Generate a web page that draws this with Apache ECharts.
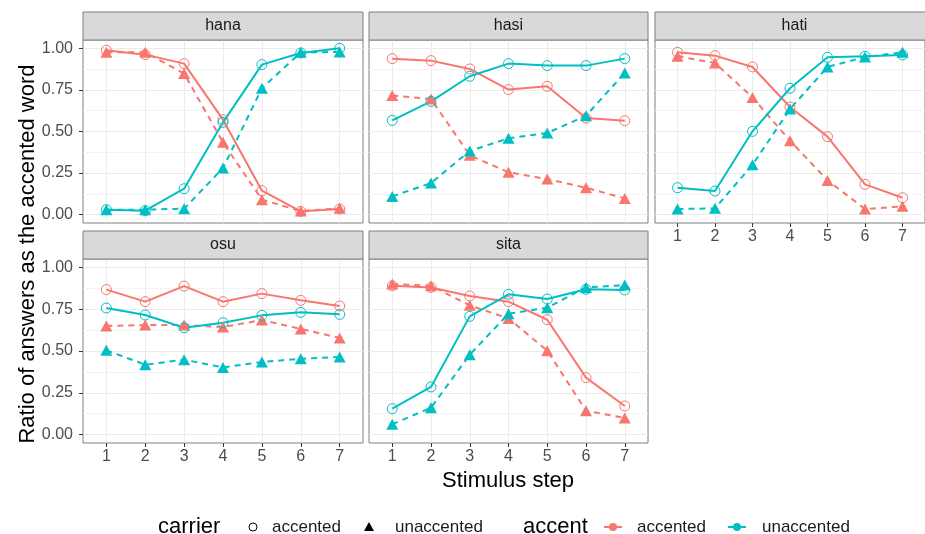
<!DOCTYPE html>
<html>
<head>
<meta charset="utf-8">
<script src="https://cdn.jsdelivr.net/npm/echarts@6/dist/echarts.min.js"></script>
<style>
html,body{margin:0;padding:0;background:#fff;}
#chart{width:925px;height:534px;}
</style>
</head>
<body>
<div id="chart"></div>
<script>
// ---------- data ----------
const steps = [1, 2, 3, 4, 5, 6, 7];
const panelNames = ['hana', 'hasi', 'hati', 'osu', 'sita'];
const yTicks = [0, 0.25, 0.5, 0.75, 1];
const yMinorTicks = [0.125, 0.375, 0.625, 0.875];

// aa: accent=accented, carrier=accented ; au: accent=accented, carrier=unaccented
// ua: accent=unaccented, carrier=accented ; uu: accent=unaccented, carrier=unaccented
const hana_aa = [0.988, 0.962, 0.908, 0.571, 0.144, 0.020, 0.034];
const hana_au = [0.976, 0.976, 0.848, 0.435, 0.090, 0.022, 0.038];
const hana_ua = [0.030, 0.024, 0.156, 0.555, 0.902, 0.972, 1.000];
const hana_uu = [0.030, 0.030, 0.036, 0.280, 0.760, 0.976, 0.978];

const hasi_aa = [0.938, 0.926, 0.876, 0.752, 0.772, 0.581, 0.565];
const hasi_au = [0.717, 0.695, 0.357, 0.255, 0.214, 0.162, 0.098];
const hasi_ua = [0.567, 0.681, 0.832, 0.908, 0.896, 0.896, 0.938];
const hasi_uu = [0.110, 0.190, 0.383, 0.459, 0.491, 0.595, 0.852];

const hati_aa = [0.976, 0.956, 0.888, 0.647, 0.469, 0.182, 0.102];
const hati_au = [0.952, 0.912, 0.705, 0.445, 0.206, 0.034, 0.050];
const hati_ua = [0.162, 0.142, 0.501, 0.760, 0.946, 0.952, 0.960];
const hati_uu = [0.034, 0.038, 0.300, 0.635, 0.888, 0.948, 0.976];

const osu_aa = [0.867, 0.795, 0.888, 0.795, 0.843, 0.803, 0.769];
const osu_au = [0.650, 0.655, 0.655, 0.643, 0.685, 0.632, 0.578];
const osu_ua = [0.757, 0.715, 0.639, 0.669, 0.713, 0.731, 0.719];
const osu_uu = [0.504, 0.418, 0.448, 0.402, 0.434, 0.454, 0.464];

const sita_aa = [0.890, 0.880, 0.829, 0.795, 0.687, 0.341, 0.171];
const sita_au = [0.900, 0.890, 0.773, 0.695, 0.502, 0.143, 0.100];
const sita_ua = [0.155, 0.285, 0.707, 0.839, 0.811, 0.869, 0.865];
const sita_uu = [0.062, 0.161, 0.478, 0.723, 0.759, 0.880, 0.894];

const panelData = [
  [hana_aa, hana_au, hana_ua, hana_uu],
  [hasi_aa, hasi_au, hasi_ua, hasi_uu],
  [hati_aa, hati_au, hati_ua, hati_uu],
  [osu_aa, osu_au, osu_ua, osu_uu],
  [sita_aa, sita_au, sita_ua, sita_uu]
];

// ---------- layout ----------
const RED = '#F8766D', TEAL = '#00BFC4';
const FONT = '"Liberation Sans", Arial, Helvetica, sans-serif';
const layout = [
  {left: 83,  top: 40,  width: 280, height: 183, showX: false, showY: true},
  {left: 369, top: 40,  width: 279, height: 183, showX: false, showY: false},
  {left: 655, top: 40,  width: 279, height: 183, showX: true,  showY: false},
  {left: 83,  top: 259, width: 280, height: 184, showX: true,  showY: true},
  {left: 369, top: 259, width: 279, height: 184, showX: true,  showY: false}
];
const STRIP_H = 28;

const grids = [], xAxes = [], yAxes = [], series = [], graphics = [];

layout.forEach((g, i) => {
  grids.push({left: g.left, top: g.top, width: g.width, height: g.height,
    show: true, backgroundColor: '#fff', borderColor: '#7f7f7f', borderWidth: 1, z: 0});
  xAxes.push({
    type: 'value', gridIndex: i, min: 0.4, max: 7.6, position: 'bottom',
    axisLine: {show: false, onZero: false},
    axisTick: {show: g.showX, customValues: steps, length: 4, lineStyle: {color: '#333', width: 1}},
    axisLabel: {show: g.showX, customValues: steps, margin: 6, fontSize: 16, color: '#4D4D4D', fontFamily: FONT},
    splitLine: {show: true, lineStyle: {color: '#EBEBEB', width: 1}}
  });
  // major y axis
  yAxes.push({
    type: 'value', gridIndex: i, min: -0.05, max: 1.05, position: 'left',
    axisLine: {show: false, onZero: false},
    axisTick: {show: g.showY, customValues: yTicks, length: 4, lineStyle: {color: '#333', width: 1}},
    axisLabel: {show: g.showY, customValues: yTicks, margin: 10, fontSize: 16, color: '#4D4D4D', fontFamily: FONT,
      formatter: v => Number(v).toFixed(2)},
    splitLine: {show: true, lineStyle: {color: '#EBEBEB', width: 1}}
  });
  // minor y grid
  yAxes.push({
    type: 'value', gridIndex: i, min: -0.05, max: 1.05, position: 'left',
    axisLine: {show: false, onZero: false},
    axisTick: {show: false, customValues: yMinorTicks},
    axisLabel: {show: false, customValues: yMinorTicks},
    splitLine: {show: true, lineStyle: {color: '#F4F4F4', width: 1}}
  });

  const d = panelData[i];
  const defs = [
    {arr: d[0], col: RED, carrierAcc: true},
    {arr: d[1], col: RED, carrierAcc: false},
    {arr: d[2], col: TEAL, carrierAcc: true},
    {arr: d[3], col: TEAL, carrierAcc: false}
  ];
  defs.forEach(s => {
    series.push({
      type: 'line', xAxisIndex: i, yAxisIndex: 2 * i,
      data: steps.map((x, k) => [x, s.arr[k]]),
      symbol: s.carrierAcc ? 'circle' : 'triangle',
      symbolSize: s.carrierAcc ? 10 : [12, 11],
      showSymbol: true,
      itemStyle: s.carrierAcc
        ? {color: 'rgba(255,255,255,0)', borderColor: s.col, borderWidth: 1}
        : {color: s.col, borderWidth: 0},
      lineStyle: {color: s.col, width: 2, type: s.carrierAcc ? 'solid' : [6, 5]},
      silent: true, animation: false, z: 3
    });
  });

  // strip
  graphics.push({type: 'rect', shape: {x: g.left, y: g.top - STRIP_H, width: g.width, height: STRIP_H},
    style: {fill: '#D9D9D9', stroke: '#7f7f7f', lineWidth: 1}, z: 10});
  graphics.push({type: 'text', x: g.left + g.width / 2, y: g.top - STRIP_H / 2,
    style: {text: panelNames[i], fill: '#1A1A1A', font: '16px ' + FONT, textAlign: 'center', textVerticalAlign: 'middle'}, z: 11});
});

// axis titles
graphics.push({type: 'text', x: 508, y: 481,
  style: {text: 'Stimulus step', fill: '#000', font: '22px ' + FONT, textAlign: 'center', textVerticalAlign: 'middle'}, z: 11});
graphics.push({type: 'text', x: 28, y: 254, rotation: Math.PI / 2,
  style: {text: 'Ratio of answers as the accented word', fill: '#000', font: '22px ' + FONT, textAlign: 'center', textVerticalAlign: 'middle'}, z: 11});

// legend
const LY = 527;
graphics.push({type: 'text', x: 158, y: LY, style: {text: 'carrier', fill: '#000', font: '22px ' + FONT, textVerticalAlign: 'middle'}});
graphics.push({type: 'circle', shape: {cx: 253, cy: LY, r: 4}, style: {fill: 'none', stroke: '#000', lineWidth: 1}});
graphics.push({type: 'text', x: 272, y: LY, style: {text: 'accented', fill: '#1A1A1A', font: '17px ' + FONT, textVerticalAlign: 'middle'}});
graphics.push({type: 'polygon', shape: {points: [[369, LY - 5], [374, LY + 4], [364, LY + 4]]}, style: {fill: '#000'}});
graphics.push({type: 'text', x: 395, y: LY, style: {text: 'unaccented', fill: '#1A1A1A', font: '17px ' + FONT, textVerticalAlign: 'middle'}});
graphics.push({type: 'text', x: 523, y: LY, style: {text: 'accent', fill: '#000', font: '22px ' + FONT, textVerticalAlign: 'middle'}});
[[613, RED, 'accented', 637], [737, TEAL, 'unaccented', 762]].forEach(([cx, col, lab, tx]) => {
  graphics.push({type: 'line', shape: {x1: cx - 9, y1: LY, x2: cx + 9, y2: LY}, style: {stroke: col, lineWidth: 2}});
  graphics.push({type: 'circle', shape: {cx: cx, cy: LY, r: 4}, style: {fill: col}});
  graphics.push({type: 'text', x: tx, y: LY, style: {text: lab, fill: '#1A1A1A', font: '17px ' + FONT, textVerticalAlign: 'middle'}});
});

const chart = echarts.init(document.getElementById('chart'), null, {renderer: 'canvas'});
chart.setOption({
  animation: false,
  backgroundColor: '#fff',
  textStyle: {fontFamily: FONT},
  grid: grids, xAxis: xAxes, yAxis: yAxes, series: series,
  graphic: {elements: graphics}
});
</script>
</body>
</html>
